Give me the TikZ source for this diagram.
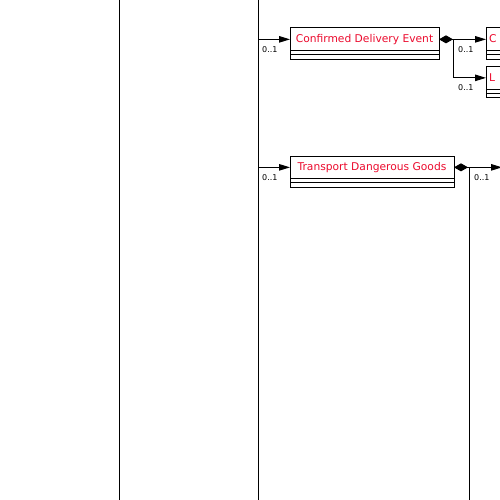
\documentclass[tikz,border=0pt]{standalone}
\usepackage{fontspec}
\setmainfont{DejaVu Sans}
\definecolor{namered}{RGB}{235, 10, 45}
\usetikzlibrary{arrows.meta, positioning, calc}

\tikzset{
  wire/.style={line width=1pt},
  link/.style={wire, -{Triangle[length=11pt, width=6.5pt]}},
  owns/.style={wire, {Diamond[length=14pt, width=8pt]}-},
  classbox/.style={draw, line width=1pt, anchor=north west, inner sep=0pt, outer sep=0pt,
    minimum height=22.7pt, text height=8.6pt, text depth=2pt, text=namered,
    font=\fontsize{10.7}{12}\selectfont},
  cutbox/.style={classbox, minimum width=40pt, text width=34pt, inner xsep=3pt, align=left},
  mult/.style={anchor=north west, inner sep=0pt, font=\fontsize{8}{9}\selectfont},
}
% the two empty compartments under a class name
\newcommand\compartments[1]{%
  \draw[wire] (#1.south west) rectangle ($(#1.south east)+(0,4)$);
  \draw[wire] ($(#1.south west)+(0,4)$) rectangle ($(#1.south east)+(0,8.6)$);
}

\begin{document}
\begin{tikzpicture}[x=1pt, y=-1pt]
  \clip (0,0) rectangle (500,500);

  % trunks coming from the parents above
  \coordinate (trunkA) at (119,0);
  \coordinate (trunkB) at (258,0);
  \coordinate (bottom) at (0,500);
  \draw[wire] (trunkA) -- (trunkA |- bottom);
  \draw[wire] (trunkB) -- (trunkB |- bottom);

  % classes
  \node[classbox, minimum width=149pt] (cde) at (290,28) {Confirmed Delivery Event};
  \node[classbox, minimum width=164pt] (tdg) at (290,156) {Transport Dangerous Goods};
  \node[cutbox] (cdeC) at (486,28) {C};
  \node[cutbox] (cdeL) at (486,66.5) {L};
  \compartments{cde}
  \compartments{tdg}
  \compartments{cdeC}
  \compartments{cdeL}

  % links from the trunk
  \draw[link] (cde.west -| trunkB) -- (cde.west);
  \draw[link] (tdg.west -| trunkB) -- (tdg.west);
  \node[mult] at ($(cde.west -| trunkB)+(4,7)$) {0..1};
  \node[mult] at ($(tdg.west -| trunkB)+(4,7)$) {0..1};

  % children of Confirmed Delivery Event
  \draw[owns] (cde.east) -- ++(14,0) coordinate (cdeFork);
  \draw[link] (cdeFork) -- (cdeC.west);
  \draw[link] (cdeFork) |- (cdeL.west);
  \node[mult] at ($(cdeFork)+(5,7)$) {0..1};
  \node[mult] at ($(cdeFork |- cdeL.west)+(5,6.5)$) {0..1};

  % children of Transport Dangerous Goods
  \draw[owns] (tdg.east) -- ++(15,0) coordinate (tdgFork);
  \coordinate (tdgNext) at (502,0);
  \draw[link] (tdgFork) -- (tdgFork -| tdgNext);
  \draw[wire] (tdgFork) -- (tdgFork |- bottom);
  \node[mult] at ($(tdgFork)+(5,7)$) {0..1};
\end{tikzpicture}
\end{document}
